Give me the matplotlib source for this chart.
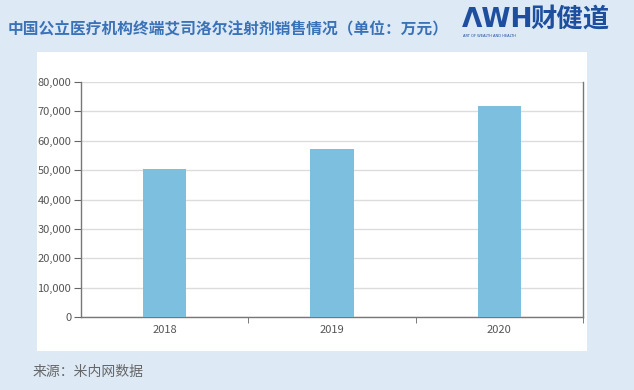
import matplotlib.pyplot as plt
from matplotlib.patches import Rectangle
from matplotlib.ticker import FuncFormatter, FixedLocator

plt.rcParams['font.family'] = ['Noto Sans CJK SC', 'DejaVu Sans']

years = ['2018', '2019', '2020']
sales = [50500, 57200, 71800]

title = '中国公立医疗机构终端艾司洛尔注射剂销售情况（单位：万元）'
source = '来源：米内网数据'

bg = '#dde9f5'
bar_color = '#7dbfdf'

fig = plt.figure(figsize=(6.34, 3.90), dpi=100)
fig.patch.set_facecolor(bg)

# white panel behind the chart
panel = fig.add_axes([37 / 634, 1 - 351 / 390, (587 - 37) / 634, (351 - 52) / 390], zorder=-1)
panel.set_axis_off()
panel.add_patch(Rectangle((0, 0), 1, 1, transform=panel.transAxes, facecolor='white', edgecolor='none'))

ax = fig.add_axes([81 / 634, 1 - 317 / 390, (583 - 81) / 634, (317 - 82) / 390], zorder=1)
ax.set_facecolor('white')

x = list(range(len(years)))
ax.bar(x, sales, width=0.26, color=bar_color, zorder=3)

ax.set_xlim(-0.5, len(years) - 0.5)
ax.set_ylim(0, 80000)
ax.set_yticks(range(0, 80001, 10000))
ax.yaxis.set_major_formatter(FuncFormatter(lambda v, p: '{:,.0f}'.format(v)))
ax.grid(axis='y', color='#dcdcdc', linewidth=1, zorder=0)

ax.set_xticks(x)
ax.set_xticklabels(years)
ax.xaxis.set_minor_locator(FixedLocator([0.5, 1.5, 2.5]))
ax.tick_params(axis='x', which='major', length=0, pad=6, labelsize=8, labelcolor='#555555')
ax.tick_params(axis='x', which='minor', length=4, color='#666666', direction='out')
ax.tick_params(axis='y', length=5, color='#666666', labelsize=8, labelcolor='#555555', pad=2)

for side in ['left', 'bottom', 'right']:
    ax.spines[side].set_color('#777777')
    ax.spines[side].set_linewidth(1)
ax.spines['top'].set_visible(False)

fig.text(8 / 634, 1 - 29 / 390, title, fontsize=11.3, fontweight='bold', color='#3a72b8',
         va='center', ha='left')

# logo
fig.text(462 / 634, 1 - 20 / 390, 'ΛWH', fontsize=19, fontweight='bold',
         color='#1e4f9f', va='center', ha='left', family=['DejaVu Sans'])
fig.text(530 / 634, 1 - 20 / 390, '财健道', fontsize=19, fontweight='bold',
         color='#1e4f9f', va='center', ha='left')
fig.text(463 / 634, 1 - 36 / 390, 'ART OF WEALTH AND HEALTH', fontsize=2.6,
         color='#1e4f9f', va='center', ha='left', family=['DejaVu Sans'])

fig.text(33 / 634, 1 - 372 / 390, source, fontsize=10, color='#666666', va='center', ha='left')

fig.savefig('out.png', dpi=100, facecolor=bg)
